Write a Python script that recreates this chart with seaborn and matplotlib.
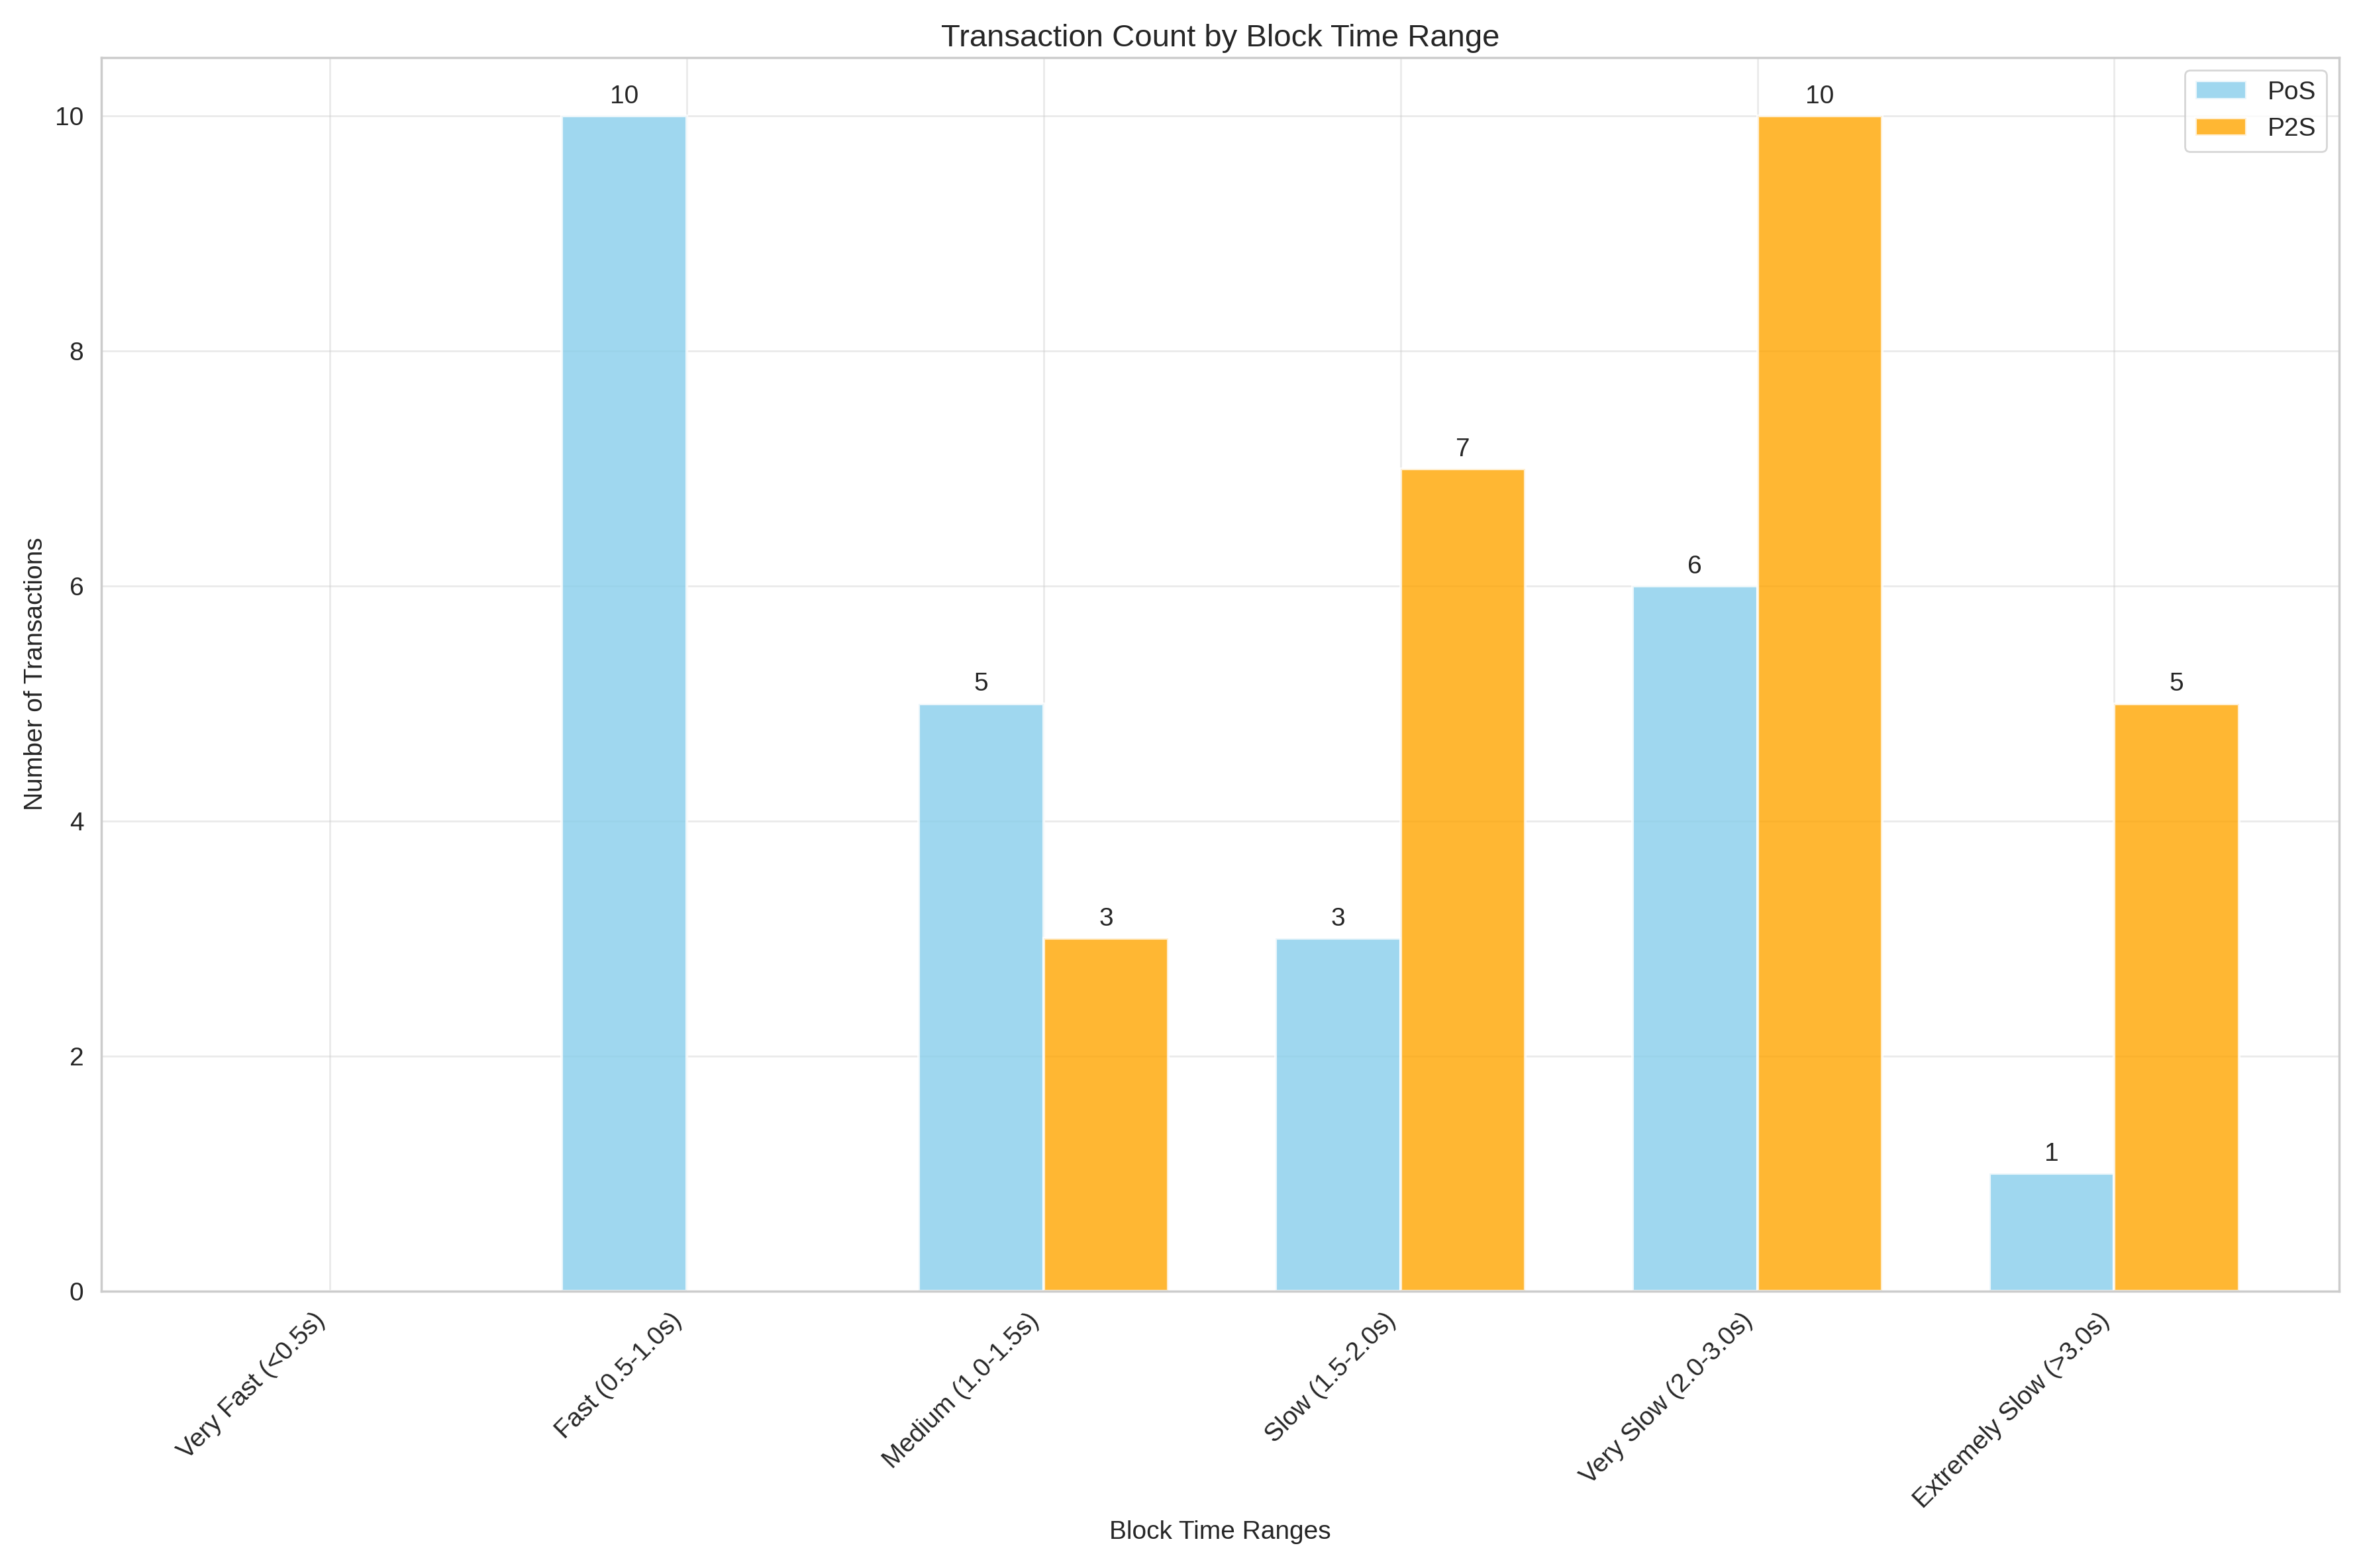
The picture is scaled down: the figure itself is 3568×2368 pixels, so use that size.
import seaborn as sns
import matplotlib.pyplot as plt
import pandas as pd

categories = ['Very Fast (<0.5s)', 'Fast (0.5-1.0s)', 'Medium (1.0-1.5s)',
              'Slow (1.5-2.0s)', 'Very Slow (2.0-3.0s)', 'Extremely Slow (>3.0s)']
pos_counts = [0, 10, 5, 3, 6, 1]
p2s_counts = [0, 0, 3, 7, 10, 5]

sns.set_theme(style='whitegrid')
plt.rcParams['font.family'] = ['Liberation Sans', 'DejaVu Sans']

data = pd.DataFrame({
    'range': categories * 2,
    'count': pos_counts + p2s_counts,
    'type': ['PoS'] * len(categories) + ['P2S'] * len(categories),
})

fig, ax = plt.subplots(figsize=(17.84, 11.84), dpi=200)
sns.barplot(data=data, x='range', y='count', hue='type', order=categories,
            palette={'PoS': 'skyblue', 'P2S': 'orange'}, alpha=0.8, saturation=1,
            width=0.7, gap=0, edgecolor='white', linewidth=1.5, ax=ax)

for cont in ax.containers:
    labels = [f'{int(v)}' if v > 0 else '' for v in cont.datavalues]
    ax.bar_label(cont, labels=labels, padding=4, fontsize=14)

ax.set_title('Transaction Count by Block Time Range', fontsize=17)
ax.set_xlabel('Block Time Ranges', fontsize=14)
ax.set_ylabel('Number of Transactions', fontsize=14)
ax.tick_params(labelsize=14)
plt.setp(ax.get_xticklabels(), rotation=45, ha='right')
ax.grid(True, alpha=0.4)
ax.set_ylim(0, 10.5)
ax.set_xlim(-0.64, 5.63)
ax.legend(title=None, loc='upper right', fontsize=14)
fig.tight_layout()
fig.savefig('out.png', dpi=200)
